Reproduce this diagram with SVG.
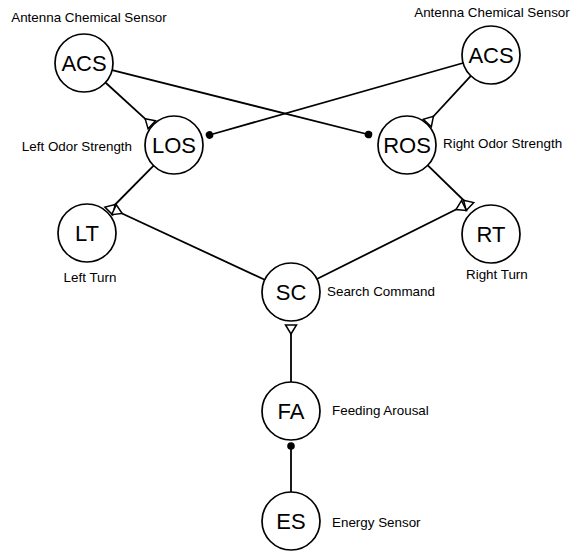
<svg xmlns="http://www.w3.org/2000/svg" width="579" height="555" viewBox="0 0 579 555">
  <style>
    .node circle { fill: #fff; stroke: #000; stroke-width: 1.7; }
    .node text.abbr { font-family: "Liberation Sans", Arial, sans-serif; font-size: 22px; text-anchor: middle; fill: #000; }
    .caption { font-family: "Liberation Sans", Arial, sans-serif; font-size: 13.4px; fill: #000; }
    .mid { text-anchor: middle; }
    .end { text-anchor: end; }
    .link { fill: none; stroke: #000; stroke-width: 1.8; }
    .excite { marker-end: url(#excite); }
    .inhibit { marker-end: url(#inhibit); }
  </style>
  <defs>
    <!-- excitatory synapse: open triangle, base on the target, apex toward the source -->
    <marker id="excite" markerUnits="userSpaceOnUse" markerWidth="14" markerHeight="14" viewBox="-11 -7 14 14" refX="0" refY="0" orient="auto" overflow="visible">
      <path d="M0,-5.5 L0,5.5 L-9,0 Z" fill="#fff" stroke="#000" stroke-width="1.5" stroke-linejoin="miter"/>
    </marker>
    <!-- inhibitory synapse: filled dot -->
    <marker id="inhibit" markerUnits="userSpaceOnUse" markerWidth="10" markerHeight="10" viewBox="-5 -5 10 10" refX="0" refY="0" orient="auto" overflow="visible">
      <circle cx="0" cy="0" r="3.8" fill="#000"/>
    </marker>
  </defs>

  <!-- connectors -->
  <g id="connectors">
    <line class="link excite" x1="105.4" y1="82.5" x2="151.8" y2="124.8"/>
    <line class="link excite" x1="471.3" y1="75.3" x2="427.3" y2="123.0"/>
    <line class="link inhibit" x1="112.1" y1="70.1" x2="368.5" y2="134.5"/>
    <line class="link inhibit" x1="463.1" y1="63.0" x2="209.5" y2="135.0"/>
    <line class="link excite" x1="153.6" y1="165.6" x2="108.8" y2="211.0"/>
    <line class="link excite" x1="264.7" y1="279.8" x2="114.0" y2="209.7"/>
    <line class="link excite" x1="427.8" y1="165.3" x2="470.0" y2="206.5"/>
    <line class="link excite" x1="316.9" y1="279.0" x2="464.0" y2="205.5"/>
    <line class="link excite" x1="291" y1="382" x2="291" y2="325"/>
    <line class="link inhibit" x1="291" y1="492" x2="291" y2="446"/>
  </g>

  <!-- nodes -->
  <g id="acs-left" class="node">
    <circle cx="84" cy="63" r="29"/>
    <text class="abbr" x="84" y="71">ACS</text>
    <text class="caption mid" x="89" y="21.5">Antenna Chemical Sensor</text>
  </g>
  <g id="acs-right" class="node">
    <circle cx="491" cy="55" r="29"/>
    <text class="abbr" x="491" y="63">ACS</text>
    <text class="caption mid" x="492" y="17">Antenna Chemical Sensor</text>
  </g>
  <g id="los" class="node">
    <circle cx="174" cy="145" r="29"/>
    <text class="abbr" x="174" y="153">LOS</text>
    <text class="caption end" x="132" y="151">Left Odor Strength</text>
  </g>
  <g id="ros" class="node">
    <circle cx="407" cy="145" r="29"/>
    <text class="abbr" x="407" y="153">ROS</text>
    <text class="caption" x="443" y="148">Right Odor Strength</text>
  </g>
  <g id="lt" class="node">
    <circle cx="87" cy="233" r="29"/>
    <text class="abbr" x="87" y="241">LT</text>
    <text class="caption mid" x="90" y="282">Left Turn</text>
  </g>
  <g id="rt" class="node">
    <circle cx="491" cy="234" r="29"/>
    <text class="abbr" x="491" y="242">RT</text>
    <text class="caption" x="466" y="279">Right Turn</text>
  </g>
  <g id="sc" class="node">
    <circle cx="291" cy="292" r="29"/>
    <text class="abbr" x="291" y="300">SC</text>
    <text class="caption" x="327" y="296">Search Command</text>
  </g>
  <g id="fa" class="node">
    <circle cx="291" cy="411" r="29"/>
    <text class="abbr" x="291" y="419">FA</text>
    <text class="caption" x="332" y="415">Feeding Arousal</text>
  </g>
  <g id="es" class="node">
    <circle cx="291" cy="521" r="29"/>
    <text class="abbr" x="291" y="529">ES</text>
    <text class="caption" x="332" y="527">Energy Sensor</text>
  </g>
</svg>
